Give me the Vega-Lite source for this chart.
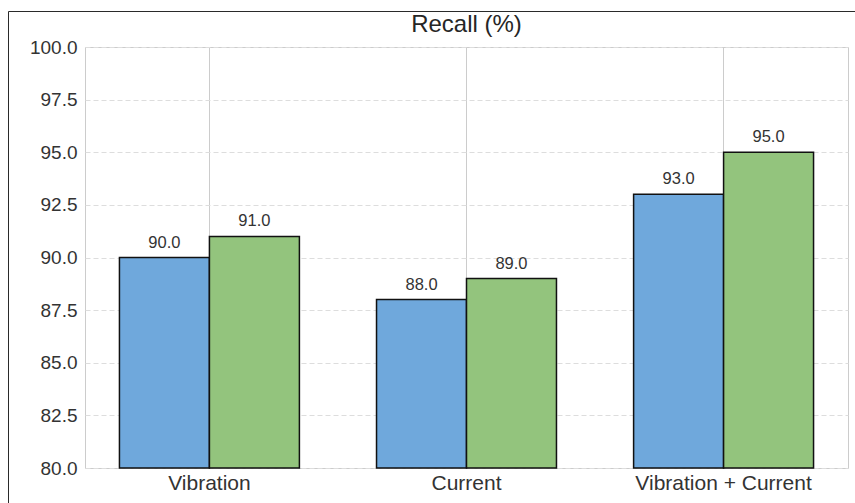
{
  "$schema": "https://vega.github.io/schema/vega-lite/v6.json",
  "width": 763,
  "height": 421,
  "autosize": {"type": "none"},
  "padding": {"left": 85, "top": 47, "right": 7, "bottom": 35},
  "background": "white",
  "title": {
    "text": "Recall (%)",
    "fontSize": 24,
    "fontWeight": "normal",
    "font": "Liberation Sans",
    "color": "#262626",
    "offset": 0,
    "dy": 26
  },
  "data": {
    "values": [
      {"input": "Vibration", "model": "A", "recall": 90.0},
      {"input": "Vibration", "model": "B", "recall": 91.0},
      {"input": "Current", "model": "A", "recall": 88.0},
      {"input": "Current", "model": "B", "recall": 89.0},
      {"input": "Vibration + Current", "model": "A", "recall": 93.0},
      {"input": "Vibration + Current", "model": "B", "recall": 95.0}
    ]
  },
  "encoding": {
    "x": {
      "field": "input",
      "type": "nominal",
      "sort": null,
      "title": null,
      "scale": {"paddingInner": 0.3, "paddingOuter": 0.134},
      "axis": {
        "labelAngle": 0,
        "labelFontSize": 21,
        "labelFont": "Liberation Sans",
        "labelColor": "#333333",
        "labelPadding": 4,
        "ticks": false,
        "domain": false,
        "grid": true,
        "bandPosition": 0.5,
        "gridColor": "#cccccc",
        "gridWidth": 1
      }
    },
    "xOffset": {"field": "model", "type": "nominal", "scale": {"paddingInner": 0, "paddingOuter": 0}},
    "y": {
      "field": "recall",
      "type": "quantitative",
      "title": null,
      "scale": {"domain": [80, 100], "zero": false, "nice": false},
      "axis": {
        "values": [80, 82.5, 85, 87.5, 90, 92.5, 95, 97.5, 100],
        "format": ".1f",
        "labelFontSize": 19,
        "labelFont": "Liberation Sans",
        "labelColor": "#333333",
        "labelPadding": 8,
        "ticks": false,
        "domain": false,
        "grid": true,
        "gridColor": "#dddddd",
        "gridDash": [5, 3],
        "gridWidth": 1
      }
    }
  },
  "layer": [
    {
      "mark": {"type": "bar", "stroke": "#111111", "strokeWidth": 1.5},
      "encoding": {
        "y2": {"datum": 80},
        "color": {
          "field": "model",
          "type": "nominal",
          "scale": {"domain": ["A", "B"], "range": ["#6fa8dc", "#93c47d"]},
          "legend": {
            "orient": "none",
            "legendX": -77,
            "legendY": -36,
            "title": null,
            "padding": 700,
            "strokeColor": "#2a2a2a",
            "labelExpr": "''",
            "symbolOpacity": 0
          }
        }
      }
    },
    {
      "mark": {"type": "text", "dy": -10, "fontSize": 16.5, "font": "Liberation Sans", "color": "#333333", "baseline": "alphabetic"},
      "encoding": {
        "text": {"field": "recall", "type": "quantitative", "format": ".1f"}
      }
    }
  ],
  "config": {
    "view": {"stroke": "#cccccc", "strokeWidth": 1}
  }
}
